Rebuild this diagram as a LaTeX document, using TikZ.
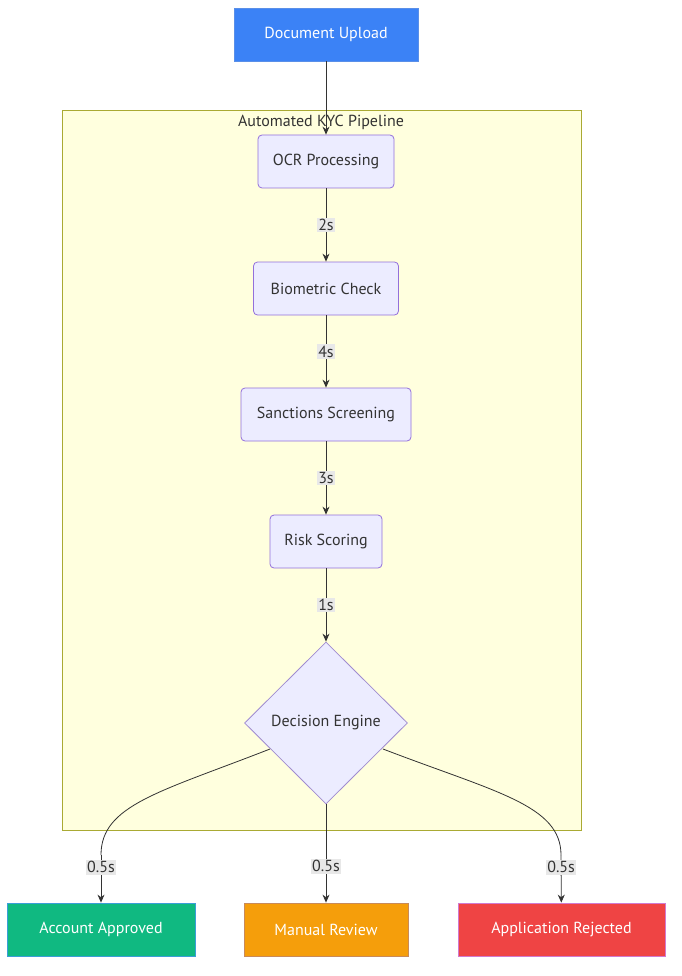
\documentclass[tikz,border=0pt]{standalone}
\usepackage{fontspec}
\setmainfont{PT Sans}
\usetikzlibrary{shapes.geometric,arrows.meta}
\definecolor{procfill}{HTML}{ECECFF}
\definecolor{procdraw}{HTML}{9370DB}
\definecolor{decdraw}{HTML}{A08CD0}
\definecolor{clfill}{HTML}{FFFFDE}
\definecolor{cldraw}{HTML}{AAAA33}
\definecolor{lnk}{HTML}{333333}
\definecolor{lblbg}{HTML}{E8E8E8}
\definecolor{upblue}{HTML}{3B82F6}
\definecolor{upblued}{HTML}{5A8FE8}
\definecolor{okgreen}{HTML}{10B981}
\definecolor{okgreend}{HTML}{3A9ED8}
\definecolor{revor}{HTML}{F59E0B}
\definecolor{revord}{HTML}{C88A5A}
\definecolor{rejred}{HTML}{EF4444}
\definecolor{rejredd}{HTML}{D07AD0}
\definecolor{txt}{HTML}{333333}
\begin{document}
\begin{tikzpicture}[x=1pt,y=-1pt,
  every node/.style={font=\fontsize{16}{19}\selectfont, text=txt},
  proc/.style={draw=procdraw, fill=procfill, rounded corners=4pt, minimum height=53pt, inner sep=0pt, line width=0.8pt},
  term/.style={draw=#1, minimum height=53pt, inner sep=0pt, text=white, line width=0.8pt},
  dec/.style={diamond, draw=decdraw, fill=procfill, inner sep=0pt, minimum width=163pt, minimum height=162pt, line width=0.8pt},
  lbl/.style={fill=lblbg, inner sep=1.5pt, font=\fontsize{16}{19}\selectfont},
  link/.style={draw=lnk, line width=0.8pt, -{Stealth[length=8pt,width=7pt]}}
]
\useasboundingbox (0,0) rectangle (681,976);
\fill[white] (0,0) rectangle (681,976);
% cluster
\node[draw=cldraw, fill=clfill, minimum width=519pt, minimum height=720pt, inner sep=0pt, line width=0.8pt] (cl) at (321.5,470) {};
\node[anchor=center] (cllbl) at (321,122) {Automated KYC Pipeline};
% nodes
\node[term=upblued, fill=upblue, minimum width=184pt] (up) at (326,34.5) {Document Upload};
\node[proc, minimum width=136pt] (ocr) at (326,161.5) {OCR Processing};
\node[proc, minimum width=145pt] (bio) at (326,288.5) {Biometric Check};
\node[proc, minimum width=170pt] (san) at (326,414.5) {Sanctions Screening};
\node[proc, minimum width=112pt] (risk) at (326,541.5) {Risk Scoring};
\node[dec] (deci) at (326,723) {Decision Engine};
\node[term=okgreend, fill=okgreen, minimum width=188pt] (ok) at (101,929.5) {Account Approved};
\node[term=revord, fill=revor, minimum width=164pt] (rev) at (326,929.5) {Manual Review};
\node[term=rejredd, fill=rejred, minimum width=207pt] (rej) at (561.5,929.5) {Application Rejected};
% edges
\draw[link] (up) -- (ocr);
\draw[link] (ocr) -- node[lbl] {2s} (bio);
\draw[link] (bio) -- node[lbl] {4s} (san);
\draw[link] (san) -- node[lbl] {3s} (risk);
\draw[link] (risk) -- node[lbl] {1s} (deci);
\coordinate (lb) at (101,855);
\coordinate (rb) at (561,855);
\draw[draw=lnk, line width=0.8pt] (270,749) .. controls (160,792) and (101,805) .. (lb);
\draw[link] (lb) -- node[lbl, pos=0.26] {0.5s} (ok);
\draw[draw=lnk, line width=0.8pt] (383,749) .. controls (495,792) and (561,805) .. (rb);
\draw[link] (rb) -- node[lbl, pos=0.26] {0.5s} (rej);
\draw[link] (deci) -- node[lbl, pos=0.63] {0.5s} (rev);
\end{tikzpicture}
\end{document}
